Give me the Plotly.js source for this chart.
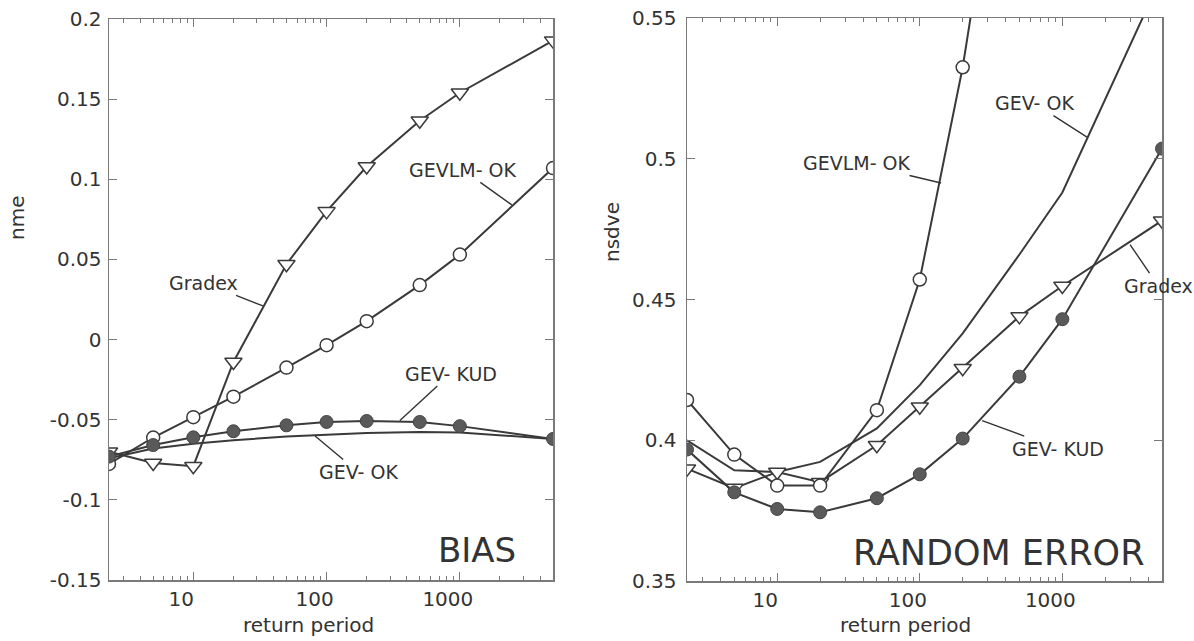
<!DOCTYPE html>
<html>
<head>
<meta charset="utf-8">
<script src="https://cdn.plot.ly/plotly-3.0.1.min.js"></script>
<style>html,body{margin:0;padding:0;background:#fff;}#chart{width:1194px;height:641px;}</style>
</head>
<body>
<div id="chart"></div>
<script>
// ---- data ----
const returnPeriod = [2.33, 5, 10, 20, 50, 100, 200, 500, 1000, 5000];

// BIAS panel (nme)
const biasGradex  = [-0.070, -0.077, -0.079, -0.014, 0.047, 0.080, 0.108, 0.1365, 0.154, 0.1865];
const biasGevlmOk = [-0.0776, -0.0611, -0.0484, -0.0356, -0.0175, -0.0035, 0.0115, 0.034, 0.053, 0.107];
const biasGevKud  = [-0.073, -0.0658, -0.061, -0.0572, -0.0535, -0.0514, -0.0508, -0.0514, -0.054, -0.062];
const biasGevOk   = [-0.074, -0.068, -0.065, -0.0628, -0.0605, -0.0593, -0.0583, -0.0577, -0.058, -0.062];

// RANDOM ERROR panel (nsdve)
const reGradex  = [0.3899, 0.383, 0.3887, 0.3851, 0.3982, 0.4119, 0.4256, 0.444, 0.4548, 0.478];
const reGevlmOk = [0.4143, 0.3949, 0.3839, 0.3839, 0.4107, 0.4571, 0.5325, 0.66, null, null];
const reGevKud  = [0.3967, 0.3815, 0.3756, 0.3744, 0.3794, 0.3879, 0.4006, 0.4226, 0.443, 0.5036];
const reGevOk   = [0.400, 0.3893, 0.3887, 0.3923, 0.4042, 0.4196, 0.438, 0.466, 0.488, 0.565];

const xTickVals = [10, 100, 1000];
const xTickText = ['10', '100', '1000'];
const biasTickVals = [-0.15, -0.1, -0.05, 0, 0.05, 0.1, 0.15, 0.2];
const biasTickText = ['-0.15', '-0.1', '-0.05', '0', '0.05', '0.1', '0.15', '0.2'];
const reTickVals = [0.35, 0.4, 0.45, 0.5, 0.55];
const reTickText = ['0.35', '0.4', '0.45', '0.5', '0.55'];

// ---- styling ----
const LINE = '#3a3a3a';
const AX = '#7a7a7a';
const W = 1194, H = 641;

const minorVals = [];
[1, 10, 100, 1000].forEach(d => { for (let k = 2; k <= 9; k++) { const v = k * d; if (v > 2.33 && v <= 5000 && v !== 10 && v !== 100 && v !== 1000) minorVals.push(v); } });

function series(xa, ya, y, kind) {
  const t = { x: returnPeriod, y: y, xaxis: xa, yaxis: ya, type: 'scatter', hoverinfo: 'skip',
              line: { color: LINE, width: 2 } };
  if (kind === 'line') { t.mode = 'lines'; }
  else {
    t.mode = 'lines+markers';
    if (kind === 'tri') t.marker = { symbol: 'triangle-down', size: 15, color: '#fff', line: { color: LINE, width: 1.5 } };
    if (kind === 'open') t.marker = { symbol: 'circle', size: 13, color: '#fff', line: { color: LINE, width: 1.5 } };
    if (kind === 'filled') t.marker = { symbol: 'circle', size: 13, color: '#5a5a5a', line: { color: '#444', width: 1 } };
  }
  return t;
}

const data = [
  series('x', 'y', biasGevOk, 'line'),
  series('x', 'y', biasGradex, 'tri'),
  series('x', 'y', biasGevlmOk, 'open'),
  series('x', 'y', biasGevKud, 'filled'),
  series('x2', 'y2', reGevOk, 'line'),
  series('x2', 'y2', reGradex, 'tri'),
  series('x2', 'y2', reGevlmOk, 'open'),
  series('x2', 'y2', reGevKud, 'filled')
];

function xAxis(domain, anchor) {
  return { type: 'log', domain: domain, anchor: anchor,
    range: [Math.log10(returnPeriod[0]), Math.log10(returnPeriod[returnPeriod.length - 1])],
    tickmode: 'array', tickvals: xTickVals, ticktext: xTickText,
    ticks: 'inside', ticklen: 8, tickwidth: 1.2, tickcolor: AX,
    showline: true, linecolor: AX, linewidth: 1.5, mirror: 'allticks',
    showgrid: false, zeroline: false, ticklabelshift: -12,
    tickfont: { family: 'DejaVu Sans', size: 20, color: '#333' },
    minor: { tickmode: 'array', tickvals: minorVals, ticks: 'inside', ticklen: 4, tickwidth: 1, tickcolor: AX, showgrid: false } };
}
function yAxis(domain, anchor, range, tv, tt, standoff) {
  return { domain: domain, anchor: anchor, range: range,
    tickmode: 'array', tickvals: tv, ticktext: tt,
    ticks: 'inside', ticklen: 8, tickwidth: 1.2, tickcolor: AX,
    showline: true, linecolor: AX, linewidth: 1.5, mirror: 'allticks',
    showgrid: false, zeroline: false, ticklabelstandoff: standoff,
    tickfont: { family: 'DejaVu Sans', size: 20, color: '#333' } };
}

const lbl = { family: 'DejaVu Sans', size: 19, color: '#333' };
function leader(xr, yr, xv, yv, text, ax, ay) {
  return { xref: xr, yref: yr, x: Math.log10(xv), y: yv, text: text, showarrow: true,
    arrowhead: 0, arrowwidth: 1.4, arrowcolor: '#333', ax: ax, ay: ay, font: lbl };
}
function paperText(px, py, text, size, angle) {
  return { xref: 'paper', yref: 'paper', x: px / W, y: 1 - py / H, xanchor: 'center', yanchor: 'middle',
    text: text, showarrow: false, textangle: angle || 0,
    font: { family: 'DejaVu Sans', size: size, color: '#333' } };
}

const layout = {
  width: W, height: H, margin: { l: 0, r: 0, t: 0, b: 0 },
  paper_bgcolor: '#fff', plot_bgcolor: '#fff', showlegend: false,
  font: { family: 'DejaVu Sans', size: 20, color: '#333' },
  xaxis: xAxis([109 / W, 553 / W], 'y'),
  yaxis: yAxis([1 - 580 / H, 1 - 19 / H], 'x', [-0.15, 0.2], biasTickVals, biasTickText, 2),
  xaxis2: xAxis([687 / W, 1162 / W], 'y2'),
  yaxis2: yAxis([1 - 581 / H, 1 - 18 / H], 'x2', [0.35, 0.55], reTickVals, reTickText, 5),
  annotations: [
    leader('x', 'y', 2455, 0.084, 'GEVLM- OK', -49, -35),
    leader('x', 'y', 33.3, 0.021, 'Gradex', -59, -23),
    leader('x', 'y', 355, -0.0505, 'GEV- KUD', 51, -47),
    leader('x', 'y', 82, -0.0602, 'GEV- OK', 43, 36),
    leader('x2', 'y2', 141, 0.4914, 'GEVLM- OK', -84, -20),
    leader('x2', 'y2', 1489, 0.5077, 'GEV- OK', -53, -34),
    leader('x2', 'y2', 2985, 0.4695, 'Gradex', 28, 41),
    leader('x2', 'y2', 274, 0.407, 'GEV- KUD', 76, 28),
    paperText(477, 550, 'BIAS', 34),
    paperText(998, 553, 'RANDOM ERROR', 35),
    paperText(308, 625, 'return period', 20),
    paperText(905, 625, 'return period', 20),
    paperText(17, 218, 'nme', 20, -90),
    paperText(612, 232, 'nsdve', 20, -90)
  ]
};

Plotly.newPlot('chart', data, layout, { staticPlot: true, displayModeBar: false });
</script>
</body>
</html>
